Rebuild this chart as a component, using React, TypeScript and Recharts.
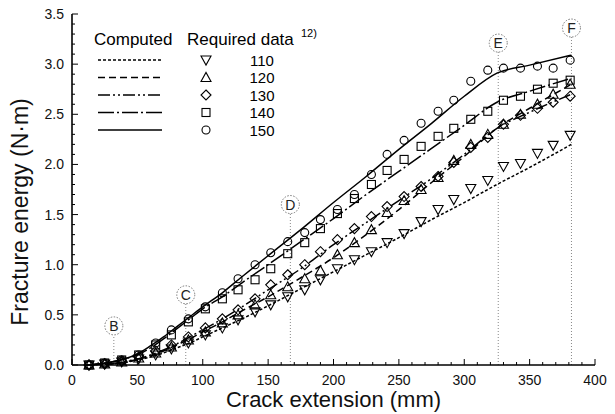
import React from "react";
import {
  ComposedChart,
  Line,
  Scatter,
  XAxis,
  YAxis,
  ReferenceLine,
  ReferenceDot,
} from "recharts";

// computed curves (lines), sampled on a shared crack-extension grid (mm)
const lineX = [10, 20, 30, 40, 50, 60, 70, 80, 90, 100, 115, 130, 150, 175, 200, 225, 250, 275, 300, 325, 350, 382];
const line110 = [0, 0.005, 0.01, 0.025, 0.05, 0.08, 0.12, 0.17, 0.22, 0.28, 0.37, 0.46, 0.59, 0.76, 0.93, 1.1, 1.27, 1.45, 1.62, 1.8, 1.97, 2.2];
const line120 = [0, 0.005, 0.012, 0.03, 0.055, 0.09, 0.14, 0.2, 0.26, 0.33, 0.43, 0.54, 0.68, 0.87, 1.07, 1.3, 1.55, 1.82, 2.08, 2.36, 2.56, 2.8];
const line130 = [0, 0.005, 0.015, 0.035, 0.06, 0.1, 0.15, 0.21, 0.28, 0.35, 0.46, 0.58, 0.75, 0.96, 1.2, 1.42, 1.64, 1.86, 2.1, 2.36, 2.52, 2.7];
const line140 = [0, 0.01, 0.03, 0.06, 0.1, 0.17, 0.26, 0.36, 0.46, 0.56, 0.68, 0.82, 1.0, 1.23, 1.46, 1.7, 1.93, 2.16, 2.39, 2.62, 2.73, 2.86];
const line150 = [0, 0.01, 0.03, 0.06, 0.11, 0.19, 0.28, 0.38, 0.48, 0.58, 0.72, 0.88, 1.09, 1.35, 1.62, 1.88, 2.15, 2.41, 2.68, 2.91, 2.99, 3.09];

// required data (markers)
const markerX = [13, 25, 38, 51, 64, 76, 89, 102, 115, 127, 140, 152, 165, 178, 190, 203, 216, 229, 241, 254, 267, 280, 292, 305, 318, 330, 343, 356, 368, 381];
const req110 = [0, 0.01, 0.03, 0.06, 0.1, 0.16, 0.22, 0.3, 0.37, 0.45, 0.53, 0.6, 0.68, 0.75, 0.85, 0.96, 1.05, 1.13, 1.22, 1.31, 1.43, 1.55, 1.65, 1.76, 1.84, 1.98, 2.01, 2.11, 2.19, 2.29];
const req120 = [0, 0.01, 0.03, 0.07, 0.12, 0.18, 0.25, 0.33, 0.42, 0.5, 0.6, 0.7, 0.78, 0.86, 0.94, 1.1, 1.22, 1.35, 1.52, 1.64, 1.75, 1.87, 2.04, 2.2, 2.3, 2.4, 2.5, 2.6, 2.7, 2.8];
const req130 = [0, 0.01, 0.04, 0.08, 0.14, 0.2, 0.28, 0.37, 0.46, 0.55, 0.66, 0.8, 0.9, 1.0, 1.13, 1.25, 1.36, 1.48, 1.58, 1.68, 1.78, 1.88, 2.02, 2.17, 2.27, 2.4, 2.49, 2.56, 2.62, 2.68];
const req140 = [0, 0.02, 0.05, 0.1, 0.2, 0.3, 0.43, 0.56, 0.66, 0.75, 0.85, 0.96, 1.11, 1.22, 1.36, 1.51, 1.66, 1.8, 1.94, 2.05, 2.18, 2.28, 2.36, 2.45, 2.53, 2.64, 2.68, 2.75, 2.81, 2.84];
const req150 = [0, 0.02, 0.05, 0.1, 0.22, 0.35, 0.46, 0.58, 0.72, 0.86, 1.0, 1.12, 1.23, 1.32, 1.45, 1.55, 1.7, 1.9, 2.1, 2.24, 2.41, 2.53, 2.64, 2.83, 2.94, 2.96, 2.96, 2.98, 2.96, 3.04];

const seriesNames = ["110", "120", "130", "140", "150"];

// stage markers B..F
const stageNames = ["B", "C", "D", "E", "F"];
const stageX = [32, 87, 167, 326, 382];
const stageY = [0.39, 0.7, 1.6, 3.21, 3.36];

const xTicks = Array.from({ length: 41 }, (_, i) => i * 10);
const yTicks = Array.from({ length: 36 }, (_, i) => Math.round(i * 10) / 100);

const FONT = "'Liberation Sans', Arial, Helvetica, sans-serif";

const toPoints = (xs: number[], ys: number[]) => xs.map((x, i) => ({ x, y: ys[i] }));

const lines = [line110, line120, line130, line140, line150].map((v) => toPoints(lineX, v));
const reqs = [req110, req120, req130, req140, req150].map((v) => toPoints(markerX, v));

const dashes = ["3 2", "7 4", "12 3 2 3 2 3", "16 3 2 3", undefined];

function Marker({ kind, cx, cy }: { kind: number; cx: number; cy: number }) {
  const p = { fill: "none", stroke: "#000", strokeWidth: 1.1 };
  if (cx == null || cy == null) return null;
  switch (kind) {
    case 0:
      return <polygon {...p} points={`${cx - 5},${cy - 4} ${cx + 5},${cy - 4} ${cx},${cy + 5}`} />;
    case 1:
      return <polygon {...p} points={`${cx - 5},${cy + 4} ${cx + 5},${cy + 4} ${cx},${cy - 5}`} />;
    case 2:
      return <polygon {...p} points={`${cx},${cy - 5} ${cx + 5},${cy} ${cx},${cy + 5} ${cx - 5},${cy}`} />;
    case 3:
      return <rect {...p} x={cx - 4} y={cy - 4} width={8} height={8} />;
    default:
      return <circle {...p} cx={cx} cy={cy} r={4} />;
  }
}

const isMajorX = (v: number) => v % 50 === 0;
const isMajorY = (v: number) => Math.abs(v * 2 - Math.round(v * 2)) < 1e-6;

const BottomTick = (props: any) => {
  const { x, y, payload } = props;
  const v = payload.value;
  const major = isMajorX(v);
  return (
    <g>
      <line x1={x} y1={y} x2={x} y2={y - (major ? 6 : 3)} stroke="#000" strokeWidth={1} />
      {major && (
        <text x={x} y={y + 20} textAnchor="middle" fontSize={14} fontFamily={FONT} fill="#111">
          {v}
        </text>
      )}
    </g>
  );
};

const TopTick = (props: any) => {
  const { x, y, payload } = props;
  const major = isMajorX(payload.value);
  return <line x1={x} y1={y} x2={x} y2={y + (major ? 6 : 3)} stroke="#000" strokeWidth={1} />;
};

const LeftTick = (props: any) => {
  const { x, y, payload } = props;
  const v = payload.value;
  const major = isMajorY(v);
  return (
    <g>
      <line x1={x} y1={y} x2={x + (major ? 6 : 3)} y2={y} stroke="#000" strokeWidth={1} />
      {major && (
        <text x={x - 8} y={y + 5} textAnchor="end" fontSize={14} fontFamily={FONT} fill="#111">
          {v.toFixed(1)}
        </text>
      )}
    </g>
  );
};

const RightTick = (props: any) => {
  const { x, y, payload } = props;
  const major = isMajorY(payload.value);
  return <line x1={x} y1={y} x2={x - (major ? 6 : 3)} y2={y} stroke="#000" strokeWidth={1} />;
};

function StageShape(props: any) {
  const { cx, cy, name } = props;
  return (
    <g>
      <circle cx={cx} cy={cy} r={9} fill="#fff" stroke="#777" strokeWidth={1} strokeDasharray="1.5 1.5" />
      <text x={cx} y={cy + 5} textAnchor="middle" fontSize={14} fontFamily={FONT} fill="#222">
        {name}
      </text>
    </g>
  );
}

function LegendBox() {
  const rowsY = [60, 77.5, 95, 112.5, 130];
  return (
    <svg width={615} height={414} style={{ position: "absolute", left: 0, top: 0, pointerEvents: "none" }}>
      <text x={94} y={45} fontSize={17} fontFamily={FONT} fill="#000">Computed</text>
      <text x={187} y={45} fontSize={17} fontFamily={FONT} fill="#000">Required data</text>
      <text x={301} y={37} fontSize={11} fontFamily={FONT} fill="#000">12)</text>
      {seriesNames.map((n, i) => (
        <g key={n}>
          <line x1={98} x2={162} y1={rowsY[i]} y2={rowsY[i]} stroke="#000" strokeWidth={1.5} strokeDasharray={dashes[i]} />
          <Marker kind={i} cx={206} cy={rowsY[i]} />
          <text x={262} y={rowsY[i] + 5.5} textAnchor="middle" fontSize={15} fontFamily={FONT} fill="#000">
            {n}
          </text>
        </g>
      ))}
    </svg>
  );
}

export default function App() {
  return (
    <div style={{ position: "absolute", left: 0, top: 0, width: 615, height: 414, background: "#fff" }}>
      <ComposedChart width={615} height={414} margin={{ top: 14, right: 20, bottom: 0, left: 0 }}>
        <XAxis
          xAxisId="b"
          type="number"
          dataKey="x"
          domain={[0, 400]}
          ticks={xTicks}
          interval={0}
          height={49}
          tickSize={0}
          tickMargin={0}
          tick={<BottomTick />}
          axisLine={{ stroke: "#000", strokeWidth: 1.6 }}
          label={{
            content: (p: any) => (
              <text
                x={p.viewBox.x + p.viewBox.width / 2}
                y={407}
                textAnchor="middle"
                fontSize={22}
                fontFamily={FONT}
                fill="#111"
              >
                Crack extension (mm)
              </text>
            ),
          }}
        />
        <XAxis
          xAxisId="t"
          orientation="top"
          type="number"
          domain={[0, 400]}
          ticks={xTicks}
          interval={0}
          height={0}
          tickSize={0}
          tickMargin={0}
          tick={<TopTick />}
          axisLine={{ stroke: "#000", strokeWidth: 1.6 }}
        />
        <YAxis
          yAxisId="l"
          type="number"
          dataKey="y"
          domain={[0, 3.5]}
          ticks={yTicks}
          interval={0}
          width={72}
          tickSize={0}
          tickMargin={0}
          tick={<LeftTick />}
          axisLine={{ stroke: "#000", strokeWidth: 1.6 }}
          label={{
            content: () => (
              <text
                x={0}
                y={0}
                transform="translate(28 212) rotate(-90)"
                textAnchor="middle"
                fontSize={23}
                fontFamily={FONT}
                fill="#111"
              >
                Fracture energy (N·m)
              </text>
            ),
          }}
        />
        <YAxis
          yAxisId="r"
          orientation="right"
          type="number"
          domain={[0, 3.5]}
          ticks={yTicks}
          interval={0}
          width={0}
          tickSize={0}
          tickMargin={0}
          tick={<RightTick />}
          axisLine={{ stroke: "#000", strokeWidth: 1.6 }}
        />

        {stageNames.map((n, i) => (
          <ReferenceLine
            key={"sl" + n}
            xAxisId="b"
            yAxisId="l"
            segment={[
              { x: stageX[i], y: 0 },
              { x: stageX[i], y: stageY[i] - 0.09 },
            ]}
            stroke="#888"
            strokeDasharray="1 2"
            strokeWidth={1}
          />
        ))}

        {lines.map((d, i) => (
          <Line
            key={"line" + i}
            xAxisId="b"
            yAxisId="l"
            data={d}
            dataKey="y"
            type="monotone"
            stroke="#000"
            strokeWidth={1.5}
            strokeDasharray={dashes[i]}
            dot={false}
            activeDot={false}
            isAnimationActive={false}
          />
        ))}

        {reqs.map((d, i) => (
          <Scatter
            key={"req" + i}
            xAxisId="b"
            yAxisId="l"
            data={d}
            dataKey="y"
            shape={(p: any) => <Marker kind={i} cx={p.cx} cy={p.cy} />}
            isAnimationActive={false}
          />
        ))}

        {stageNames.map((n, i) => (
          <ReferenceDot
            key={"sd" + n}
            xAxisId="b"
            yAxisId="l"
            x={stageX[i]}
            y={stageY[i]}
            r={9}
            shape={(p: any) => <StageShape cx={p.cx} cy={p.cy} name={n} />}
          />
        ))}
      </ComposedChart>
      <LegendBox />
    </div>
  );
}
